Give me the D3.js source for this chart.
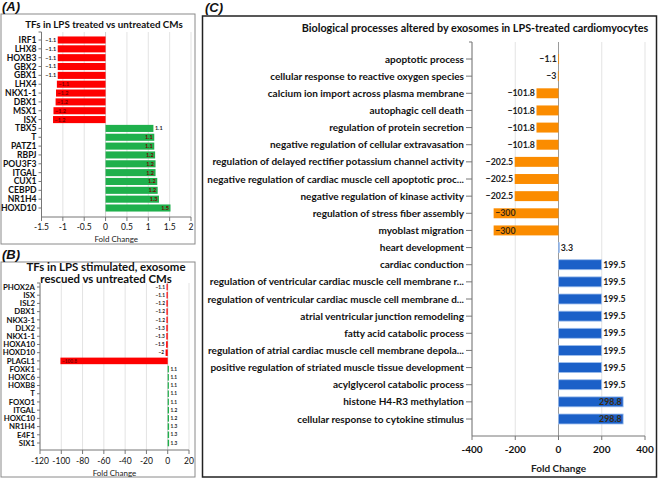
<!DOCTYPE html>
<html><head><meta charset="utf-8">
<script src="https://cdn.jsdelivr.net/npm/d3@7"></script>
<style>
body{margin:0;background:#fff;}
svg{display:block;font-family:Lato,"Open Sans",sans-serif;}
</style></head>
<body><svg id="c" width="658" height="480"></svg>
<script>
// ---------- DATA ----------
const catsA = ["IRF1","LHX8","HOXB3","GBX2","GBX1","LHX4","NKX1-1","DBX1","MSX1","ISX","TBX5","T","PATZ1","RBPJ","POU3F3","ITGAL","CUX1","CEBPD","NR1H4","HOXD10"];
const valsA = [-1.12,-1.12,-1.12,-1.12,-1.12,-1.14,-1.16,-1.17,-1.22,-1.23,1.12,1.14,1.14,1.16,1.17,1.17,1.21,1.22,1.25,1.52];
const ticksA = [-1.5,-1,-0.5,0,0.5,1,1.5,2];

const catsB = ["PHOX2A","ISX","ISL2","DBX1","NKX3-1","DLX2","NKX1-1","HOXA10","HOXD10","PLAGL1","FOXK1","HOXC6","HOXB8","T","FOXO1","ITGAL","HOXC10","NR1H4","E4F1","SIX1"];
const valsB = [-1.1,-1.1,-1.2,-1.2,-1.2,-1.3,-1.3,-1.5,-2,-100.8,1.1,1.1,1.1,1.1,1.1,1.2,1.2,1.3,1.3,1.3];
const ticksB = [-120,-100,-80,-60,-40,-20,0,20];

const catsC = ["apoptotic process","cellular response to reactive oxygen species","calcium ion import across plasma membrane","autophagic cell death","regulation of protein secretion","negative regulation of cellular extravasation","regulation of delayed rectifier potassium channel activity","negative regulation of cardiac muscle cell apoptotic proc...","negative regulation of kinase activity","regulation of stress fiber assembly","myoblast migration","heart development","cardiac conduction","regulation of ventricular cardiac muscle cell membrane r...","regulation of ventricular cardiac muscle cell membrane d...","atrial ventricular junction remodeling","fatty acid catabolic process","regulation of atrial cardiac muscle cell membrane depola...","positive regulation of striated muscle tissue development","acylglycerol catabolic process","histone H4-R3 methylation","cellular response to cytokine stimulus"];
const valsC = [-1.1,-3,-101.8,-101.8,-101.8,-101.8,-202.5,-202.5,-202.5,-300,-300,3.3,199.5,199.5,199.5,199.5,199.5,199.5,199.5,199.5,298.8,298.8];
const ticksC = [-400,-200,0,200,400];

// ---------- DRAW ----------
const svg = d3.select("#c");
const fmt = d3.format(".1~f");

function panel(o){
  const g = svg.append("g");
  g.append("rect").attr("x",o.box[0]).attr("y",o.box[1]).attr("width",o.box[2]-o.box[0]).attr("height",o.box[3]-o.box[1])
    .attr("fill","none").attr("stroke",o.frameColor).attr("stroke-width",o.frameW);
  g.append("text").attr("x",o.letter[1]).attr("y",o.letter[2]).text(o.letter[0])
    .attr("font-style","italic").attr("font-weight",700).attr("font-size",13).attr("font-family","Liberation Sans, Arial, sans-serif").attr("fill","#111");
  o.title.forEach((t,i)=>{
    g.append("text").attr("x",o.titleX).attr("y",o.titleY+i*o.titleLH).attr("text-anchor","middle")
      .attr("font-weight",700).attr("font-size",o.titleSize).attr("fill","#111").text(t);
  });
  const x = d3.scaleLinear().domain(o.domain).range(o.xr);
  const step = (o.yc[1]-o.yc[0])/(o.cats.length-1);
  const y = d3.scaleBand().domain(o.cats).range([o.yc[0]-step/2,o.yc[1]+step/2]).paddingInner(o.pad).paddingOuter(o.pad/2);
  g.append("g").selectAll("line").data(o.ticks).join("line")
    .attr("x1",d=>x(d)).attr("x2",d=>x(d)).attr("y1",o.axTop).attr("y2",o.axBot)
    .attr("stroke",d=>d===0?o.zeroColor:"#e3e3e3").attr("stroke-width",1);
  g.append("g").selectAll("rect").data(o.vals).join("rect")
    .attr("x",d=>x(Math.min(0,d))).attr("width",d=>Math.max(0.8,Math.abs(x(d)-x(0))))
    .attr("y",(d,i)=>y(o.cats[i])).attr("height",y.bandwidth())
    .attr("fill",(d,i)=>o.color(d,i))
    .attr("stroke",d=>(o.barStroke&&d>0)?o.barStroke:"none").attr("stroke-width",0.8);
  g.append("g").selectAll("text").data(o.vals).join("text")
    .attr("x",d=>{
      const inside = Math.abs(d)>=o.insideAt;
      if(d<0) return inside? x(d)+1.5 : x(d)-1.5;
      return inside? x(d)-1.5 : x(d)+1.5;
    })
    .attr("text-anchor",d=>{
      const inside = Math.abs(d)>=o.insideAt;
      if(d<0) return inside?"start":"end";
      return inside?"end":"start";
    })
    .attr("y",(d,i)=>y(o.cats[i])+y.bandwidth()/2).attr("dy","0.35em")
    .attr("font-size",o.lblSize).attr("font-weight",700)
    .attr("fill",d=>Math.abs(d)>=o.insideAt?o.insideColor:"#222")
    .text(d=>fmt(d));
  const yAx = g.append("g").attr("transform",`translate(${o.xr[0]},0)`);
  yAx.append("line").attr("x1",0).attr("x2",0).attr("y1",o.axTop).attr("y2",o.axBot).attr("stroke","#777");
  yAx.append("line").attr("x1",-3).attr("x2",0).attr("y1",o.axTop).attr("y2",o.axTop).attr("stroke","#777");
  const yt = yAx.selectAll("g").data(o.cats).join("g").attr("transform",d=>`translate(0,${y(d)+y.bandwidth()/2})`);
  yt.append("line").attr("x1",-o.tickLen).attr("x2",0).attr("stroke","#777");
  yt.append("text").attr("x",-o.tickLen-2).attr("dy","0.35em").attr("text-anchor","end")
    .attr("font-weight",700).attr("font-size",o.catSize).attr("fill","#111").text(d=>d);
  const xAx = g.append("g").attr("transform",`translate(0,${o.axBot})`);
  xAx.append("line").attr("x1",o.xr[0]).attr("x2",o.xr[1]).attr("stroke","#777");
  const xt = xAx.selectAll("g").data(o.ticks).join("g").attr("transform",d=>`translate(${x(d)},0)`);
  xt.append("line").attr("y1",0).attr("y2",4).attr("stroke","#777");
  xt.append("text").attr("y",o.tickLblDy).attr("text-anchor","middle").attr("font-size",o.tickSize)
    .attr("font-weight",o.tickWeight).attr("fill","#111").text(d=>d);
  g.append("text").attr("x",(o.xr[0]+o.xr[1])/2).attr("y",o.xTitleY).attr("text-anchor","middle")
    .attr("font-size",o.xTitleSize).attr("font-weight",o.xTitleWeight).attr("fill","#222").text("Fold Change");
}

panel({
  box:[1,14,195,244], frameColor:"#8a8a8a", frameW:1, letter:["(A)",2,11],
  title:["TFs in LPS treated vs untreated CMs"], titleX:104, titleY:28, titleLH:0, titleSize:9.8,
  cats:catsA, vals:valsA, ticks:ticksA, domain:[-1.5,2], xr:[41.5,191], yc:[40,208], pad:0.2,
  axTop:32, axBot:217, zeroColor:"#cfcfcf",
  color:d=>d<0?"#fe0000":"#1fb04c", insideAt:1.13, insideColor:"#7a0000", lblSize:5.5,
  tickLen:3, catSize:8.6, tickSize:8.5, tickWeight:400, tickLblDy:13, xTitleY:242, xTitleSize:8, xTitleWeight:400
});
panel({
  box:[1,262,195,477], frameColor:"#8a8a8a", frameW:1, letter:["(B)",2,259],
  title:["TFs in LPS stimulated, exosome","rescued vs untreated CMs"], titleX:106, titleY:271, titleLH:12, titleSize:11.4,
  cats:catsB, vals:valsB, ticks:ticksB, domain:[-120,20], xr:[40,189], yc:[287,443], pad:0.2,
  axTop:283, axBot:450, zeroColor:"#cfcfcf",
  color:d=>d<0?"#fe0000":"#1fb04c", insideAt:50, insideColor:"#7a0000", lblSize:4.8,
  tickLen:3, catSize:7.8, tickSize:8.5, tickWeight:400, tickLblDy:14, xTitleY:476, xTitleSize:8, xTitleWeight:400
});
panel({
  box:[202.5,16,656.5,477], frameColor:"#222", frameW:1.5, letter:["(C)",205,12],
  title:["Biological processes altered by exosomes in LPS-treated cardiomyocytes"], titleX:475, titleY:32, titleLH:0, titleSize:10.8,
  cats:catsC, vals:valsC, ticks:ticksC, domain:[-400,400], xr:[472,645], yc:[59,419], pad:0.42,
  axTop:42, axBot:436, zeroColor:"#9a9a9a",
  color:d=>d<0?"#fb8c00":"#1b60c8", barStroke:"#9dbdec", insideAt:290, insideColor:"#3a2a10", lblSize:8.8,
  tickLen:6, catSize:10, tickSize:10, tickWeight:700, tickLblDy:17, xTitleY:472, xTitleSize:10, xTitleWeight:700
});
</script></body></html>
